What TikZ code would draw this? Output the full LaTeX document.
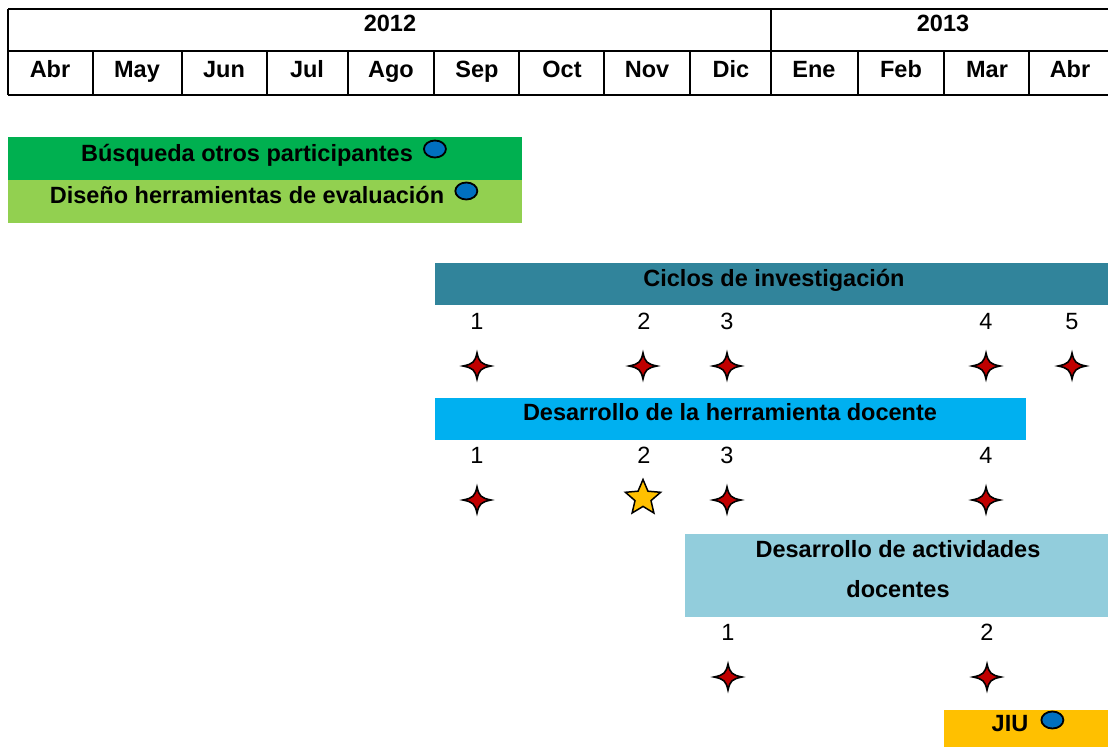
\documentclass[tikz,border=0pt]{standalone}
\usepackage{fontspec}
\setmainfont{Liberation Sans}
\usetikzlibrary{positioning,shapes.geometric}
\definecolor{verdeosc}{HTML}{00B050}
\definecolor{verdecla}{HTML}{92D050}
\definecolor{azulpetroleo}{HTML}{31849B}
\definecolor{azulcielo}{HTML}{00B0F0}
\definecolor{azulpalido}{HTML}{92CDDC}
\definecolor{naranja}{HTML}{FFC000}
\definecolor{rojohito}{HTML}{C00000}
\definecolor{azulhito}{HTML}{0070C0}
\tikzset{
  tabla/.style={line width=1.8pt, black},
  mes/.style={font=\fontsize{23.5}{28}\selectfont\bfseries, anchor=base, inner sep=0pt},
  titulo/.style={font=\fontsize{23.5}{28}\selectfont\bfseries, anchor=base, inner sep=0pt},
  num/.style={font=\fontsize{23.5}{28}\selectfont, anchor=base, inner sep=0pt},
  hito/.style={ellipse, draw=black, line width=1.8pt, fill=azulhito, minimum width=22pt, minimum height=17pt, inner sep=0pt},
  cruz/.pic={\draw[line width=1.6pt, fill=rojohito] (14,0) .. controls (4,2) and (2,4) .. (0,13) .. controls (-2,4) and (-4,2) .. (-14,0) .. controls (-4,-2) and (-2,-4) .. (0,-13) .. controls (2,-4) and (4,-2) .. cycle;},
}
\begin{document}
\begin{tikzpicture}[x=1pt, y=-1pt]
			\useasboundingbox (0,0) rectangle (1108,747);
			% Calendar header
			\draw[tabla] (8,9) -- (1108,9);
			\draw[tabla] (8,51) -- (1108,51);
			\draw[tabla] (8,95) -- (1108,95);
			\draw[tabla] (8,9) -- (8,95);
			\draw[tabla] (771,9) -- (771,95);
			\foreach \x in {93,182,267,348,434,519,604,690,858,944,1029}
				\draw[tabla] (\x,51) -- (\x,95);
			\node[titulo] (y2012) at (390,31) {2012};
			\node[titulo] (y2013) at (943,31) {2013};
			\node[mes] (abr) at (50,77) {Abr};
			\node[mes] (may) at (137,77) {May};
			\node[mes] (jun) at (224,77) {Jun};
			\node[mes] (jul) at (307,77) {Jul};
			\node[mes] (ago) at (391,77) {Ago};
			\node[mes] (sep) at (477,77) {Sep};
			\node[mes] (oct) at (562,77) {Oct};
			\node[mes] (nov) at (647,77) {Nov};
			\node[mes] (dic) at (731,77) {Dic};
			\node[mes] (ene) at (814,77) {Ene};
			\node[mes] (feb) at (901,77) {Feb};
			\node[mes] (mar) at (987,77) {Mar};
			\node[mes] (abrb) at (1070,77) {Abr};
			% First tasks
			\fill[verdeosc] (8,137) rectangle (522,180);
			\fill[verdecla] (8,180) rectangle (522,223);
			\node[titulo] (busqueda) at (247,161) {Búsqueda otros participantes};
			\node[hito, right=10pt of busqueda.base east, yshift=12pt] (h1) {};
			\node[titulo] (diseno) at (247,203) {Diseño herramientas de evaluación};
			\node[hito, right=10pt of diseno.base east, yshift=12pt] (h2) {};
			% Research cycles
			\fill[azulpetroleo] (435,263) rectangle (1108,305);
			\node[titulo] (ciclos) at (774,286) {Ciclos de investigación};
			\node[num] (c1) at (477,329) {1};
			\node[num] (c2) at (644,329) {2};
			\node[num] (c3) at (727,329) {3};
			\node[num] (c4) at (986,329) {4};
			\node[num] (c5) at (1072,329) {5};
			\pic (e1) at (477,366) {cruz};
			\pic (e2) at (643,366) {cruz};
			\pic (e3) at (727,366) {cruz};
			\pic (e4) at (986,366) {cruz};
			\pic (e5) at (1072,366) {cruz};
			% Teaching tool
			\fill[azulcielo] (435,398) rectangle (1026,440);
			\node[titulo] (herramienta) at (730,420) {Desarrollo de la herramienta docente};
			\node[num] (d1) at (477,463) {1};
			\node[num] (d2) at (644,463) {2};
			\node[num] (d3) at (727,463) {3};
			\node[num] (d4) at (986,463) {4};
			\pic (f1) at (477,500) {cruz};
			\node[star, star points=5, star point ratio=2.2, draw=black, line width=1.5pt, fill=naranja, minimum size=37pt, inner sep=0pt] (f2) at (643,498) {};
			\pic (f3) at (727,500) {cruz};
			\pic (f4) at (986,500) {cruz};
			% Teaching activities
			\fill[azulpalido] (685,534) rectangle (1108,617);
			\node[titulo] (actividades) at (898,557) {Desarrollo de actividades};
			\node[titulo] (docentes) at (898,597) {docentes};
			\node[num] (a1) at (728,640) {1};
			\node[num] (a2) at (987,640) {2};
			\pic (g1) at (728,677) {cruz};
			\pic (g2) at (987,677) {cruz};
			% JIU
			\fill[naranja] (944,710) rectangle (1108,747);
			\node[titulo] (jiu) at (1010,731) {JIU};
			\node[hito, right=12pt of jiu.base east, yshift=11pt] (h3) {};
		\end{tikzpicture}
\end{document}
